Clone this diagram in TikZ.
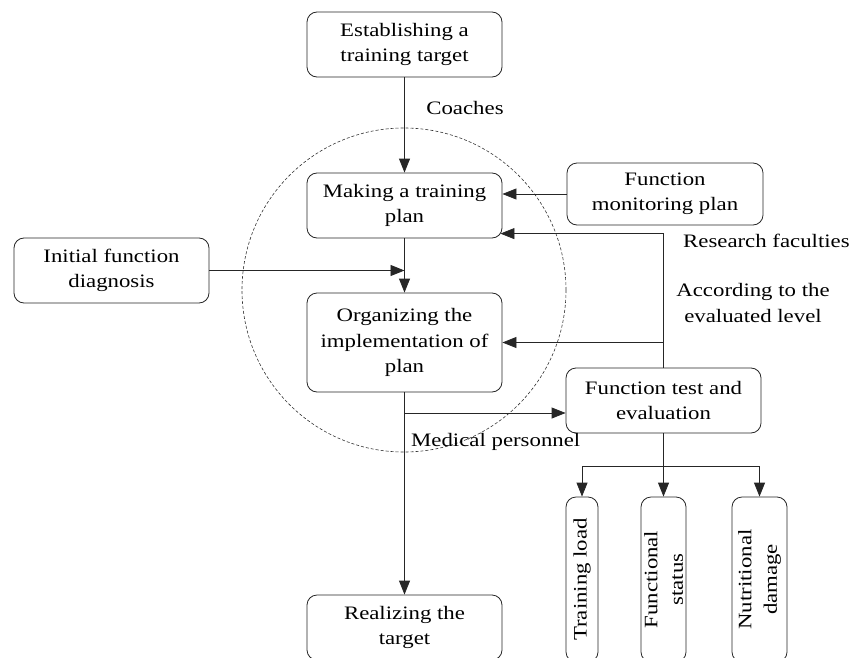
\documentclass[tikz,border=0pt]{standalone}
\usepackage{fontspec}
\setmainfont{Liberation Serif}[FakeStretch=1.2]
\usetikzlibrary{arrows.meta,calc}
\begin{document}
\begin{tikzpicture}[x=1pt,y=-1pt,
  box/.style={draw=black!85,line width=0.8pt,rounded corners=10pt,align=center,inner sep=2pt,
    font=\fontsize{19}{25.5}\selectfont},
  vbox/.style={box,rotate=90},
  lbl/.style={align=center,inner sep=0pt,font=\fontsize{19}{25.5}\selectfont},
  arr/.style={draw=black!85,line width=0.8pt,-{Triangle[length=14pt,width=11pt]}},
  ln/.style={draw=black!85,line width=0.8pt}]
\useasboundingbox (0,0) rectangle (856,658);
\clip (0,0) rectangle (856,658);
\draw[black!80,line width=0.6pt,dash pattern=on 3pt off 2pt] (404,290) circle[radius=162pt];
\node[box,minimum width=195pt,minimum height=65pt] (est) at (404.5,44.5) {Establishing a\\training target};
\node[box,minimum width=195pt,minimum height=65pt] (plan) at (404.5,205.5) {Making a training\\plan};
\node[box,minimum width=196pt,minimum height=62pt] (mon) at (665,194) {Function\\monitoring plan};
\node[box,minimum width=195pt,minimum height=65pt] (init) at (111.5,270.5) {Initial function\\diagnosis};
\node[box,minimum width=195pt,minimum height=99pt] (org) at (404.5,342.5) {Organizing the\\implementation of\\plan};
\node[box,minimum width=195pt,minimum height=65pt] (test) at (663.5,400.5) {Function test and\\evaluation};
\node[box,minimum width=195pt,minimum height=65pt] (real) at (404.5,627.5) {Realizing the\\target};
\node[vbox,minimum width=165pt,minimum height=32pt] (tl) at (582,579.5) {Training load};
\node[vbox,minimum width=165pt,minimum height=45pt] (fs) at (663.5,579.5) {Functional\\status};
\node[vbox,minimum width=165pt,minimum height=55pt] (nd) at (759.5,579.5) {Nutritional\\damage};
\node[lbl] (coach) at (465,108) {Coaches};
\node[lbl,anchor=west] (res) at (683,241) {Research faculties};
\node[lbl] (acc) at (753,303) {According to the\\evaluated level};
\node[lbl,anchor=west] (med) at (411,442) {Medical personnel};
\draw[arr] (est.south) -- (plan.north);
\draw[arr] (plan.south) -- (org.north);
\draw[arr] (init.east) -- (init.east -| plan.south);
\draw[arr] (mon.west) -- (mon.west -| plan.east);
\coordinate (fb) at ($(test.north)+(0,-134)$);
\draw[arr] (test.north) -- (fb) -- ($(fb -| plan.east)+(-2,0)$);
\draw[arr] (test.north |- org.east) -- (org.east);
\draw[arr] (org.south) -- (real.north);
\coordinate (mp) at (404.5,413);
\draw[arr] (mp) -- (mp -| test.west);
\coordinate (br) at (663.5,466);
\draw[ln] (test.south) -- (br);
\draw[ln] (br -| tl.east) -- (br -| nd.east);
\draw[arr] (br -| tl.east) -- (tl.east);
\draw[arr] (br) -- (fs.east);
\draw[arr] (br -| nd.east) -- (nd.east);
\end{tikzpicture}
\end{document}
